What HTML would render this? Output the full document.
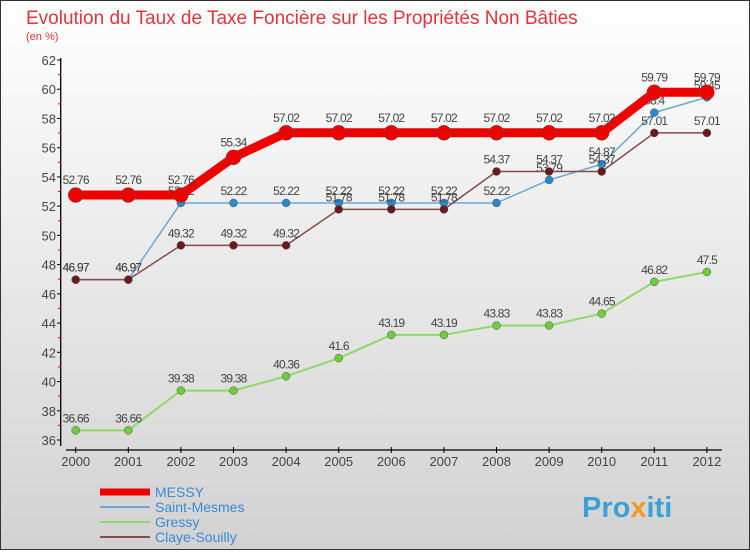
<!DOCTYPE html>
<html><head><meta charset="utf-8"><style>
body{margin:0}
#c{width:750px;height:550px;position:relative;font-family:"Liberation Sans",sans-serif;}
</style></head><body>
<div id="c">
<svg width="750" height="550" xmlns="http://www.w3.org/2000/svg" id="svg">
<defs><linearGradient id="bg" x1="0" y1="0" x2="0" y2="1"><stop offset="0" stop-color="#ffffff"/><stop offset="1" stop-color="#d2d2d2"/></linearGradient></defs>
<rect x="0.5" y="0.5" width="749" height="549" fill="url(#bg)" stroke="#333"/>
<text x="26" y="24" font-size="19" fill="#e2343c">Evolution du Taux de Taxe Foncière sur les Propriétés Non Bâties</text>
<text x="26" y="40" font-size="11" fill="#e2343c">(en %)</text>
<g id="axes"></g><g id="series"></g><g id="legend"></g>
<text x="582" y="517" font-size="29" font-weight="bold" fill="#3aa0d8">Pro<tspan fill="#f29a1c">x</tspan>iti</text>
</svg>
</div>
<script>
const years=["2000","2001","2002","2003","2004","2005","2006","2007","2008","2009","2010","2011","2012"];
const yTicks=[36,38,40,42,44,46,48,50,52,54,56,58,60,62];
const messy=[52.76,52.76,52.76,55.34,57.02,57.02,57.02,57.02,57.02,57.02,57.02,59.79,59.79];
const saintMesmes=[46.97,46.97,52.22,52.22,52.22,52.22,52.22,52.22,52.22,53.79,54.87,58.4,59.45];
const gressy=[36.66,36.66,39.38,39.38,40.36,41.6,43.19,43.19,43.83,43.83,44.65,46.82,47.5];
const claye=[46.97,46.97,49.32,49.32,49.32,51.78,51.78,51.78,54.37,54.37,54.37,57.01,57.01];
const NS="http://www.w3.org/2000/svg";
const X=i=>75.7+i*52.6;
const Y=v=>60+(62-v)*(380/26);
function mk(t,a,p){const e=document.createElementNS(NS,t);for(const k in a)e.setAttribute(k,a[k]);p.appendChild(e);return e;}
const ax=document.getElementById('axes');
let e=mk('line',{x1:60.7,y1:58,x2:60.7,y2:446,stroke:'#000','stroke-width':1.3},ax);

e=mk('line',{x1:66,y1:450,x2:722,y2:450,stroke:'#000','stroke-width':1.3},ax);

yTicks.forEach(v=>{mk('line',{x1:57,y1:Y(v),x2:61,y2:Y(v),stroke:'#000'},ax);
 if(v<62)mk('line',{x1:58,y1:Y(v+1),x2:61,y2:Y(v+1),stroke:'#e00'},ax);
 const t=mk('text',{x:56,y:Y(v)+5,'text-anchor':'end','font-size':13,fill:'#444'},ax);t.textContent=v;
 });
years.forEach((y,i)=>{mk('line',{x1:X(i),y1:447,x2:X(i),y2:453,stroke:'#000'},ax);
 const t=mk('text',{x:X(i),y:466,'text-anchor':'middle','font-size':13,fill:'#444'},ax);t.textContent=y;
 });
const sg=document.getElementById('series');
const S=[[gressy,'#8fd86a','#6fcc3c',2,4,'gressy'],[saintMesmes,'#6aa8d8','#2a88cc',1.5,4,'saint-mesmes'],[claye,'#8a4a4a','#6a1a1a',1.5,4,'claye-souilly'],[messy,'#ee0000','#ee0000',9,7.5,'messy']];
S.forEach(([d,lc,pc,w,r,n])=>{const g=mk('g',{},sg);
 const l=mk('polyline',{points:d.map((v,i)=>X(i)+','+Y(v)).join(' '),fill:'none',stroke:lc,'stroke-width':w,'stroke-linejoin':'round'},g);
 
 d.forEach((v,i)=>{const c=mk('circle',{cx:X(i),cy:Y(v),r:r,fill:pc,stroke:'#555','stroke-width':0.5},g);
  
  const t=mk('text',{x:X(i),y:Y(v)-(n==='messy'?11:8),'text-anchor':'middle','font-size':12,fill:'#444','letter-spacing':'-0.8'},g);t.textContent=v;
  });});
const lg=document.getElementById('legend');
[['MESSY','#ee0000',7],['Saint-Mesmes','#6aa8d8',2],['Gressy','#8fd86a',2],['Claye-Souilly','#8a4a4a',2]].forEach(([n,c,w],i)=>{
 const y=492+i*15;const g=mk('g',{},lg);
 mk('line',{x1:100,y1:y,x2:150,y2:y,stroke:c,'stroke-width':w},g);
 const t=mk('text',{x:155,y:y+5,'font-size':14,fill:'#3a8ad8'},g);t.textContent=n;});
</script>
</body></html>
